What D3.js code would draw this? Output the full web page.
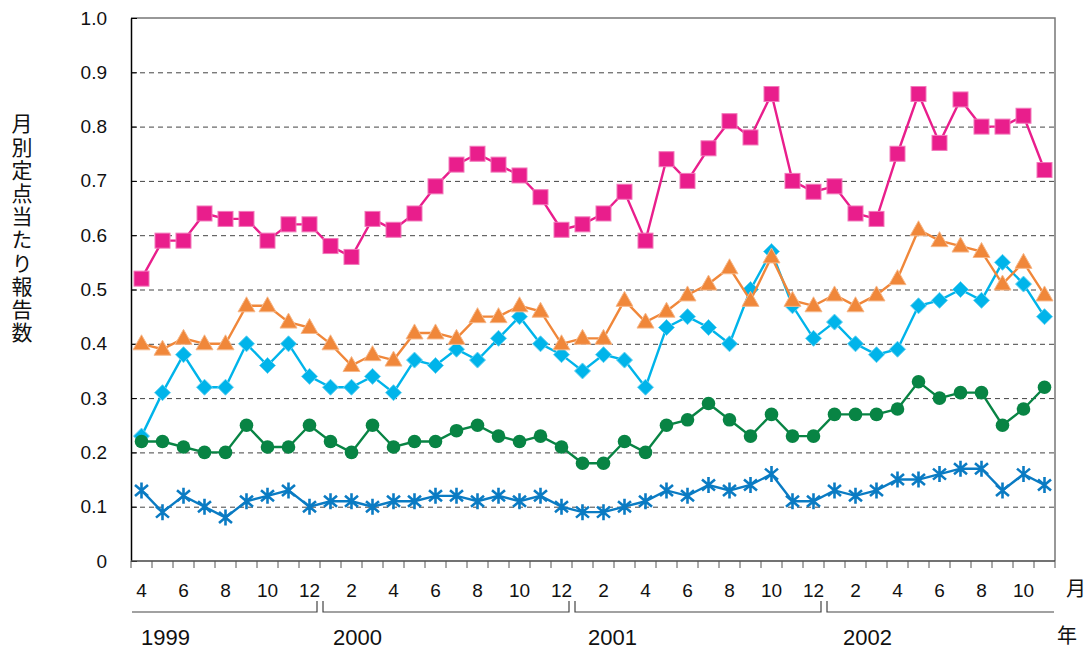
<!DOCTYPE html>
<html>
<head>
<meta charset="utf-8">
<title>月別定点当たり報告数</title>
<script src="https://d3js.org/d3.v7.min.js"></script>
<style>
    body { margin: 0; background: #fff; }
    text { font-family: 'Liberation Sans', Arial, sans-serif; fill: #111; }
    .jp { font-family: 'Noto Sans CJK JP', sans-serif; }
    .grid line { stroke: #444; stroke-dasharray: 5,4; }
    .grid path { display: none; }
    .line { fill: none; stroke-width: 2.4px; }
</style>
</head>
<body>
<script>
"use strict";
// months from 1999/4 to 2002/11
const years = [1999, 2000, 2001, 2002];
const months = [
    4, 5, 6, 7, 8, 9, 10, 11, 12,
    1, 2, 3, 4, 5, 6, 7, 8, 9, 10, 11, 12,
    1, 2, 3, 4, 5, 6, 7, 8, 9, 10, 11, 12,
    1, 2, 3, 4, 5, 6, 7, 8, 9, 10, 11
];
const monthYears = [
    1999, 1999, 1999, 1999, 1999, 1999, 1999, 1999, 1999,
    2000, 2000, 2000, 2000, 2000, 2000, 2000, 2000, 2000, 2000, 2000, 2000,
    2001, 2001, 2001, 2001, 2001, 2001, 2001, 2001, 2001, 2001, 2001, 2001,
    2002, 2002, 2002, 2002, 2002, 2002, 2002, 2002, 2002, 2002, 2002
];
const yTicks = [0, 0.1, 0.2, 0.3, 0.4, 0.5, 0.6, 0.7, 0.8, 0.9, 1.0];

const pinkValues = [
    0.52, 0.59, 0.59, 0.64, 0.63, 0.63, 0.59, 0.62, 0.62,
    0.58, 0.56, 0.63, 0.61, 0.64, 0.69, 0.73, 0.75, 0.73, 0.71, 0.67, 0.61,
    0.62, 0.64, 0.68, 0.59, 0.74, 0.70, 0.76, 0.81, 0.78, 0.86, 0.70, 0.68,
    0.69, 0.64, 0.63, 0.75, 0.86, 0.77, 0.85, 0.80, 0.80, 0.82, 0.72
];
const orangeValues = [
    0.40, 0.39, 0.41, 0.40, 0.40, 0.47, 0.47, 0.44, 0.43,
    0.40, 0.36, 0.38, 0.37, 0.42, 0.42, 0.41, 0.45, 0.45, 0.47, 0.46, 0.40,
    0.41, 0.41, 0.48, 0.44, 0.46, 0.49, 0.51, 0.54, 0.48, 0.56, 0.48, 0.47,
    0.49, 0.47, 0.49, 0.52, 0.61, 0.59, 0.58, 0.57, 0.51, 0.55, 0.49
];
const cyanValues = [
    0.23, 0.31, 0.38, 0.32, 0.32, 0.40, 0.36, 0.40, 0.34,
    0.32, 0.32, 0.34, 0.31, 0.37, 0.36, 0.39, 0.37, 0.41, 0.45, 0.40, 0.38,
    0.35, 0.38, 0.37, 0.32, 0.43, 0.45, 0.43, 0.40, 0.50, 0.57, 0.47, 0.41,
    0.44, 0.40, 0.38, 0.39, 0.47, 0.48, 0.50, 0.48, 0.55, 0.51, 0.45
];
const greenValues = [
    0.22, 0.22, 0.21, 0.20, 0.20, 0.25, 0.21, 0.21, 0.25,
    0.22, 0.20, 0.25, 0.21, 0.22, 0.22, 0.24, 0.25, 0.23, 0.22, 0.23, 0.21,
    0.18, 0.18, 0.22, 0.20, 0.25, 0.26, 0.29, 0.26, 0.23, 0.27, 0.23, 0.23,
    0.27, 0.27, 0.27, 0.28, 0.33, 0.30, 0.31, 0.31, 0.25, 0.28, 0.32
];
const blueValues = [
    0.13, 0.09, 0.12, 0.10, 0.08, 0.11, 0.12, 0.13, 0.10,
    0.11, 0.11, 0.10, 0.11, 0.11, 0.12, 0.12, 0.11, 0.12, 0.11, 0.12, 0.10,
    0.09, 0.09, 0.10, 0.11, 0.13, 0.12, 0.14, 0.13, 0.14, 0.16, 0.11, 0.11,
    0.13, 0.12, 0.13, 0.15, 0.15, 0.16, 0.17, 0.17, 0.13, 0.16, 0.14
];

const series = [
    { name: "blue", values: blueValues, color: "#0a7bc3", marker: "asterisk" },
    { name: "cyan", values: cyanValues, color: "#00b4ea", marker: "diamond" },
    { name: "green", values: greenValues, color: "#088444", marker: "circle" },
    { name: "orange", values: orangeValues, color: "#f0873a", marker: "triangle" },
    { name: "pink", values: pinkValues, color: "#e91e8c", marker: "square" }
];

const W = 1092, H = 649;
const plot = { left: 131, right: 1055, top: 18, bottom: 561 };

const x = d3.scaleBand().domain(d3.range(months.length)).range([plot.left, plot.right]);
const y = d3.scaleLinear().domain([0, 1]).range([plot.bottom, plot.top]);
const cx = i => x(i) + x.bandwidth() / 2;

const svg = d3.select("body").append("svg")
    .attr("width", W).attr("height", H);

// dashed gridlines
svg.append("g")
    .attr("class", "grid")
    .attr("transform", "translate(" + plot.left + ",0)")
    .call(d3.axisLeft(y).tickValues(yTicks.slice(1, -1)).tickSize(-(plot.right - plot.left)).tickFormat(""));

// frame: top and right in grey
svg.append("path")
    .attr("d", "M" + plot.left + "," + plot.top + "H" + plot.right + "V" + plot.bottom)
    .attr("fill", "none").attr("stroke", "#777").attr("stroke-width", 1.5);

// y axis
const yAxis = svg.append("g")
    .attr("transform", "translate(" + plot.left + ",0)")
    .call(d3.axisLeft(y).tickValues(yTicks).tickSizeInner(-6).tickSizeOuter(0).tickPadding(24)
        .tickFormat(d => d === 0 ? "0" : d3.format(".1f")(d)));
yAxis.select(".domain").attr("stroke", "#000").attr("stroke-width", 1.5);
yAxis.selectAll(".tick line").attr("stroke", "#000");
yAxis.selectAll("text").style("font-size", "19px").attr("fill", "#111");

// x axis: baseline + ticks at month boundaries
svg.append("line")
    .attr("x1", plot.left).attr("x2", plot.right)
    .attr("y1", plot.bottom).attr("y2", plot.bottom)
    .attr("stroke", "#444").attr("stroke-width", 1.5);
svg.append("g").selectAll("line")
    .data(d3.range(months.length + 1))
    .join("line")
    .attr("x1", i => i < months.length ? x(i) : plot.right)
    .attr("x2", i => i < months.length ? x(i) : plot.right)
    .attr("y1", plot.bottom).attr("y2", plot.bottom + 7)
    .attr("stroke", "#555");

// month labels, every other month
svg.append("g").selectAll("text")
    .data(d3.range(months.length).filter(i => i % 2 === 0))
    .join("text")
    .attr("x", i => cx(i))
    .attr("y", 597)
    .attr("text-anchor", "middle")
    .style("font-size", "19px")
    .text(i => months[i]);

// year brackets
const yearSpans = years.map(yr => {
    const idx = d3.range(months.length).filter(i => monthYears[i] === yr);
    return { year: yr, start: x(idx[0]), end: x(idx[idx.length - 1]) + x.bandwidth() };
});
const bracketY = 612;
svg.append("g").selectAll("path")
    .data(yearSpans)
    .join("path")
    .attr("d", (d, i) => {
        const s = d.start + (i === 0 ? 1 : 3), e = d.end - (i === yearSpans.length - 1 ? 1 : 3);
        let p = "";
        p += i === 0 ? "M" + s + "," + bracketY : "M" + s + "," + (bracketY - 11) + "V" + bracketY;
        p += "H" + e;
        if (i !== yearSpans.length - 1) p += "V" + (bracketY - 11);
        return p;
    })
    .attr("fill", "none").attr("stroke", "#444").attr("stroke-width", 1.2);
svg.append("g").selectAll("text")
    .data(yearSpans)
    .join("text")
    .attr("x", (d, i) => d.start + 10 + i * 3)
    .attr("y", 645)
    .style("font-size", "22px")
    .text(d => d.year);

svg.append("text").attr("class", "jp")
    .attr("x", 1066).attr("y", 596)
    .style("font-size", "20px").text("月");
svg.append("text").attr("class", "jp")
    .attr("x", 1057).attr("y", 643)
    .style("font-size", "20px").text("年");

// y title, written top to bottom
svg.append("text")
    .attr("class", "jp")
    .attr("x", 22)
    .attr("y", 113)
    .style("writing-mode", "vertical-rl")
    .style("text-orientation", "upright")
    .style("letter-spacing", "2.2px")
    .style("font-size", "21px")
    .text("月別定点当たり報告数");

// series lines and markers
const line = d3.line().x((d, i) => cx(i)).y(d => y(d));

function drawMarker(g, s) {
    const pts = g.selectAll("g.pt").data(s.values).join("g")
        .attr("class", "pt")
        .attr("transform", (d, i) => "translate(" + cx(i) + "," + y(d) + ")");
    const light = d3.interpolateRgb(s.color, "#fff")(0.4);
    if (s.marker === "square") {
        pts.append("rect").attr("x", -7.5).attr("y", -7.5).attr("width", 15).attr("height", 15)
            .attr("fill", s.color).attr("stroke", light).attr("stroke-width", 1);
    } else if (s.marker === "triangle") {
        pts.append("path").attr("d", "M0,-9L8.5,6L-8.5,6Z")
            .attr("fill", s.color).attr("stroke", light).attr("stroke-width", 1);
    } else if (s.marker === "diamond") {
        pts.append("path").attr("d", "M0,-8L8,0L0,8L-8,0Z")
            .attr("fill", s.color).attr("stroke", light).attr("stroke-width", 1);
    } else if (s.marker === "circle") {
        pts.append("circle").attr("r", 6.8).attr("fill", s.color);
    } else {
        pts.append("path").attr("d", "M0,-8V8M-6.5,-5.5L6.5,5.5M-6.5,5.5L6.5,-5.5")
            .attr("fill", "none").attr("stroke", s.color).attr("stroke-width", 2.6);
    }
}

series.forEach(s => {
    const g = svg.append("g").attr("class", "series " + s.name);
    g.append("path").datum(s.values)
        .attr("class", "line")
        .attr("d", line)
        .style("stroke", s.color);
    drawMarker(g, s);
});
</script>
</body>
</html>
